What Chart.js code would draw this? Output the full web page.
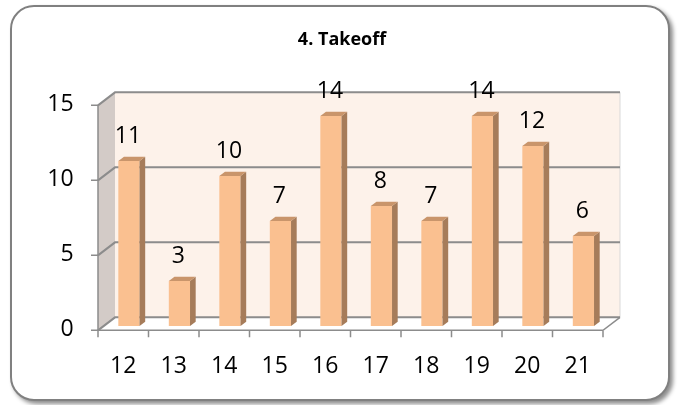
<!DOCTYPE html>
<html>
<head>
<meta charset="utf-8">
<title>4. Takeoff</title>
<script src="https://cdn.jsdelivr.net/npm/chart.js@4.4.1/dist/chart.umd.min.js"></script>
<style>
  html, body { margin: 0; padding: 0; background: #fff; }
  #contenedor { position: relative; width: 678px; height: 405px; }
  #marco {
    position: absolute; left: 10px; top: 5px; width: 660px; height: 396px;
    box-sizing: border-box; border: 2px solid #808080; border-radius: 24px;
    background: #fff; box-shadow: 3px 3px 4px rgba(0, 0, 0, 0.45);
  }
  #graficoTakeoff { position: absolute; left: 0; top: 0; }
</style>
</head>
<body>
<div id="contenedor">
  <div id="marco"></div>
  <canvas id="graficoTakeoff" width="678" height="405"></canvas>
</div>
<script>
const sesiones = ["12", "13", "14", "15", "16", "17", "18", "19", "20", "21"];
const takeoff = [11, 3, 10, 7, 14, 8, 7, 14, 12, 6];
const marcasY = [0, 5, 10, 15];

// profundidad del "cubo" 3D; las barras ocupan el tercio central
const PROF_X = 17;
const PROF_Y = -13;

function poligono(ctx, puntos) {
  ctx.beginPath();
  ctx.moveTo(puntos[0][0], puntos[0][1]);
  for (let i = 1; i < puntos.length; i++) ctx.lineTo(puntos[i][0], puntos[i][1]);
  ctx.closePath();
}

// paredes, piso, lineas de division y ejes frontales
const paredes3D = {
  id: "paredes3D",
  beforeDatasetsDraw(chart) {
    const { ctx, scales: { x, y } } = chart;
    const fx = -PROF_X / 3, fy = -PROF_Y / 3;
    const bx = (PROF_X * 2) / 3, by = (PROF_Y * 2) / 3;
    const izq = x.left, der = x.right;
    const y0 = y.getPixelForValue(0);
    const yMax = y.getPixelForValue(marcasY[marcasY.length - 1]);

    ctx.save();
    // pared del fondo
    ctx.fillStyle = "#FDF2EA";
    ctx.fillRect(izq + bx, yMax + by, der - izq, y0 - yMax);
    ctx.strokeStyle = "#D9D9D9";
    ctx.lineWidth = 1;
    ctx.beginPath();
    ctx.moveTo(der + bx, yMax + by);
    ctx.lineTo(der + bx, y0 + by);
    ctx.stroke();

    // pared lateral
    ctx.fillStyle = "#D3CBC7";
    poligono(ctx, [[izq + fx, yMax + fy], [izq + bx, yMax + by], [izq + bx, y0 + by], [izq + fx, y0 + fy]]);
    ctx.fill();

    // piso
    ctx.fillStyle = "#FFFFFF";
    poligono(ctx, [[izq + fx, y0 + fy], [der + fx, y0 + fy], [der + bx, y0 + by], [izq + bx, y0 + by]]);
    ctx.fill();

    ctx.strokeStyle = "#8C8C8C";
    ctx.lineWidth = 2;
    marcasY.forEach((v) => {
      const py = y.getPixelForValue(v);
      ctx.beginPath();
      ctx.moveTo(izq + fx, py + fy);
      ctx.lineTo(izq + bx, py + by);
      ctx.lineTo(der + bx, py + by);
      ctx.stroke();
    });

    // eje vertical frontal
    ctx.lineWidth = 1.5;
    ctx.beginPath();
    ctx.moveTo(izq + fx, yMax + fy);
    ctx.lineTo(izq + fx, y0 + fy);
    marcasY.forEach((v) => {
      const py = y.getPixelForValue(v) + fy;
      ctx.moveTo(izq + fx - 7, py);
      ctx.lineTo(izq + fx, py);
    });
    ctx.stroke();

    // eje horizontal frontal y borde derecho del piso
    const paso = (der - izq) / sesiones.length;
    ctx.beginPath();
    ctx.moveTo(izq + fx, y0 + fy);
    ctx.lineTo(der + fx, y0 + fy);
    ctx.lineTo(der + bx, y0 + by);
    for (let i = 0; i <= sesiones.length; i++) {
      const px = izq + fx + paso * i;
      ctx.moveTo(px, y0 + fy);
      ctx.lineTo(px, y0 + fy + 7);
    }
    ctx.stroke();
    ctx.restore();
  },

  afterDatasetsDraw(chart) {
    const { ctx } = chart;
    const meta = chart.getDatasetMeta(0);
    const dx = PROF_X / 3, dy = PROF_Y / 3;

    ctx.save();
    meta.data.forEach((barra) => {
      const { x, y, base, width } = barra.getProps(["x", "y", "base", "width"], true);
      const l = x - width / 2, r = x + width / 2;
      ctx.fillStyle = "#A67C5A";
      poligono(ctx, [[r, y], [r + dx, y + dy], [r + dx, base + dy], [r, base]]);
      ctx.fill();
      ctx.fillStyle = "#C9956B";
      poligono(ctx, [[l, y], [l + dx, y + dy], [r + dx, y + dy], [r, y]]);
      ctx.fill();
    });

    // valores sobre cada barra
    ctx.fillStyle = "#000";
    ctx.font = '23px "Open Sans", sans-serif';
    ctx.textAlign = "center";
    ctx.textBaseline = "alphabetic";
    meta.data.forEach((barra, i) => {
      ctx.fillText(String(takeoff[i]), barra.x - 1, barra.y - 18);
    });
    ctx.restore();
  },
};

Chart.defaults.font.family = '"Open Sans", sans-serif';
Chart.defaults.color = "#000";

new Chart(document.getElementById("graficoTakeoff"), {
  type: "bar",
  data: {
    labels: sesiones,
    datasets: [
      {
        label: "Takeoff",
        data: takeoff,
        backgroundColor: "#FAC090",
        borderWidth: 0,
        barPercentage: 0.42,
        categoryPercentage: 1,
      },
    ],
  },
  options: {
    responsive: false,
    animation: false,
    layout: {
      padding: { left: 6, right: 0, top: 20, bottom: 0 },
    },
    plugins: {
      legend: { display: false },
      tooltip: { enabled: false },
      title: {
        display: true,
        text: "4. Takeoff",
        font: { size: 18, weight: "bold", lineHeight: 1.2 },
        padding: { top: 9.2, bottom: 50.2 },
        color: "#000",
      },
    },
    scales: {
      x: {
        grid: { display: false, drawTicks: false },
        border: { display: false },
        ticks: { font: { size: 23 }, padding: 27, labelOffset: -5.67 },
        afterFit: (scale) => {
          scale.height = 79;
        },
      },
      y: {
        min: 0,
        max: 15,
        grid: { display: false, drawTicks: false },
        border: { display: false },
        ticks: { stepSize: 5, font: { size: 23 }, padding: 30, labelOffset: 3 },
        afterFit: (scale) => {
          scale.width = 97.67;
        },
      },
      // margen derecho del area de trazado
      yDer: {
        position: "right",
        min: 0,
        max: 15,
        grid: { display: false, drawTicks: false },
        border: { display: false },
        ticks: { display: false },
        afterFit: (scale) => {
          scale.width = 69.33;
        },
      },
    },
  },
  plugins: [paredes3D],
});
</script>
</body>
</html>
